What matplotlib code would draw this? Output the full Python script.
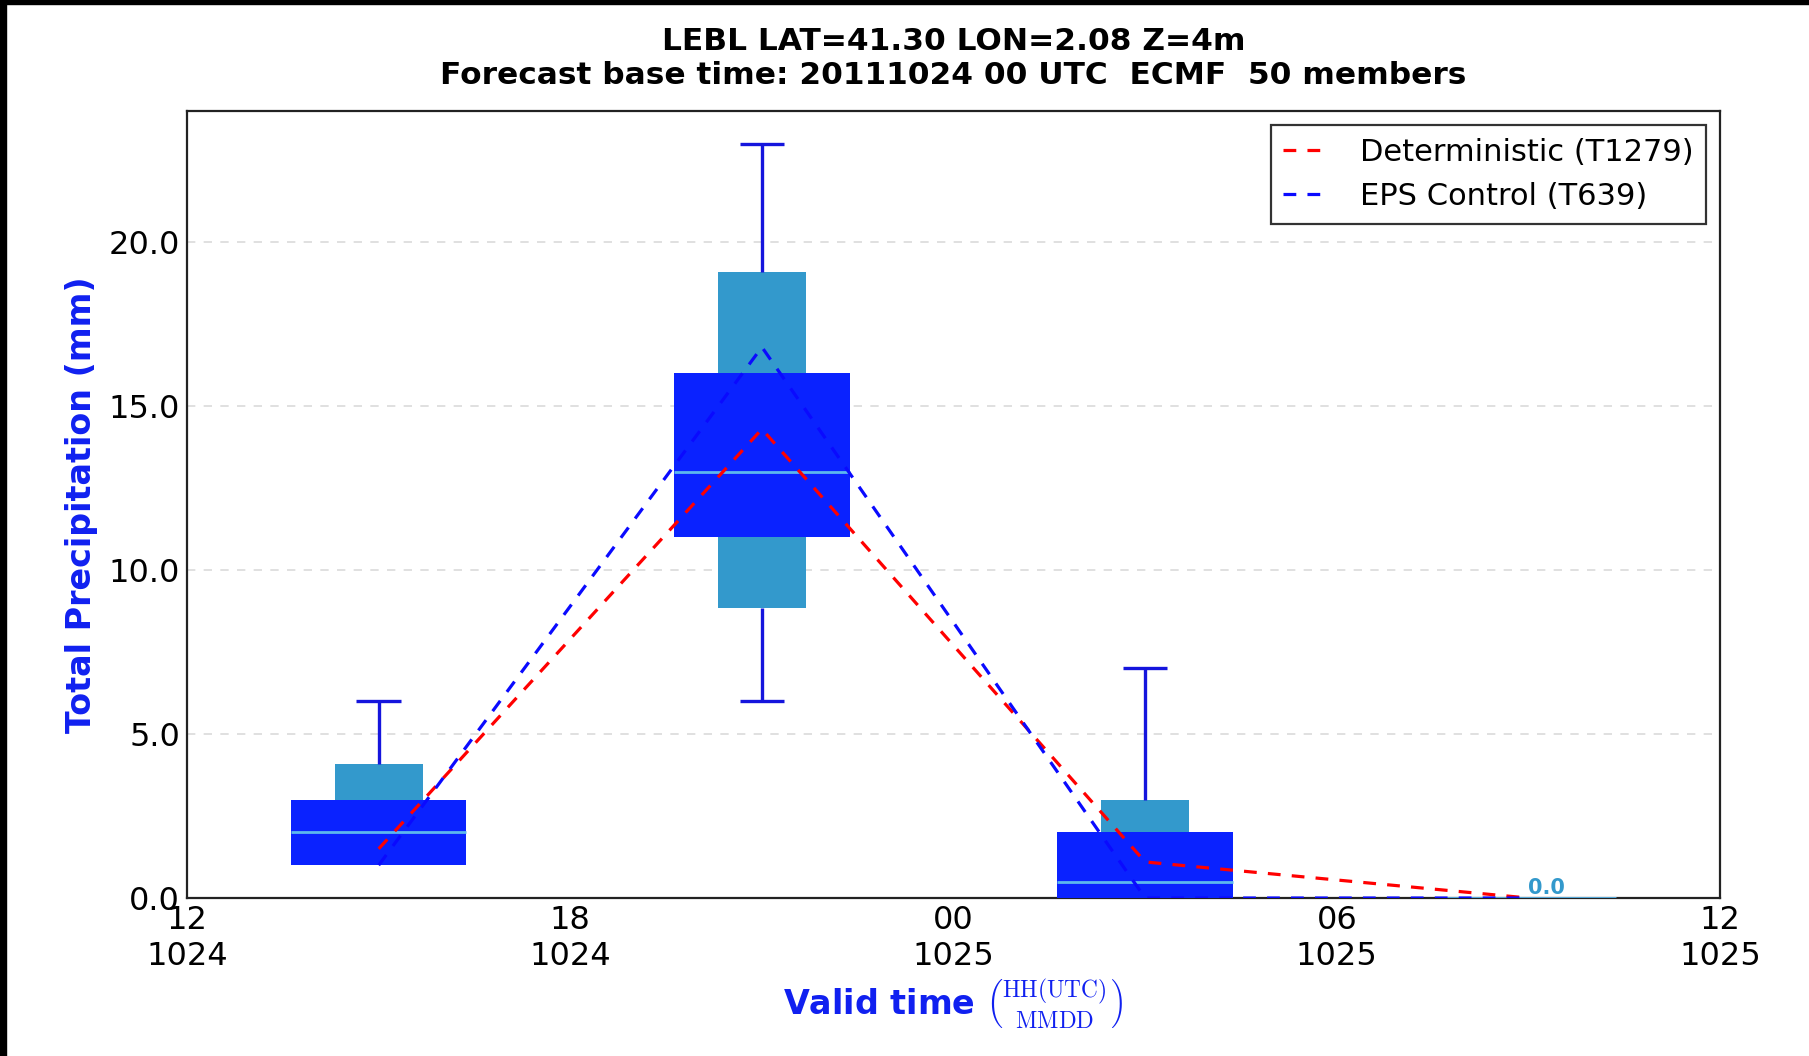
import numpy as np
import matplotlib
matplotlib.use('Agg')
import matplotlib.pyplot as plt
from matplotlib.patches import Rectangle

plt.rcParams['font.family'] = ['DejaVu Sans']
plt.rcParams['mathtext.fontset'] = 'cm'

# ---- data (6h accumulated precipitation, mm) ----
steps = [15, 21, 27, 33]          # hours after 20111024 00 UTC (centre of period)
p10 = [1.0, 8.85, 0.0, 0.0]
p25 = [1.0, 11.0, 0.0, 0.0]
p50 = [2.0, 13.0, 0.5, 0.0]
p75 = [3.0, 16.0, 2.0, 0.0]
p90 = [4.1, 19.1, 3.0, 0.0]
pmin = [1.0, 6.0, 0.0, 0.0]
pmax = [6.0, 23.0, 7.0, 0.0]
deterministic = [1.5, 14.3, 1.1, 0.0]
eps_control = [1.0, 16.8, 0.0, 0.0]

xticks_h = [12, 18, 24, 30, 36]
yticks = [0.0, 5.0, 10.0, 15.0, 20.0]

title = ('LEBL LAT=41.30 LON=2.08 Z=4m\n'
         'Forecast base time: 20111024 00 UTC  ECMF  50 members')

# ---- colours ----
DARK = '#0a22ff'
LIGHT = '#3399cc'
MEDIAN = '#5cb8ee'
WHISK = '#1515dd'
LABEL_BLUE = '#1020f0'

steps = np.array(steps, dtype=float)
p10, p25, p50, p75, p90 = map(np.array, (p10, p25, p50, p75, p90))
pmin, pmax = np.array(pmin), np.array(pmax)

fig = plt.figure(figsize=(18.09, 10.56), dpi=100)
ax = fig.add_axes([0.1034, 0.1496, 0.8474, 0.7453])

wide, narrow, cap = 2.75, 1.375, 0.7

ax.yaxis.grid(True, linestyle=(0, (5, 5)), color='#dadada', linewidth=1.2, zorder=0)
ax.set_axisbelow(True)

# 10-90 percentile (narrow) and 25-75 percentile (wide) boxes
ax.bar(steps, p90 - p10, bottom=p10, width=narrow, color=LIGHT, linewidth=0, zorder=2)
ax.bar(steps, p75 - p25, bottom=p25, width=wide, color=DARK, linewidth=0, zorder=3)
ax.hlines(p50, steps - wide / 2, steps + wide / 2, colors=MEDIAN, linewidth=2, zorder=4)

# whiskers min / max
up = pmax > p90
lo = pmin < p10
ax.vlines(steps[up], p90[up], pmax[up], colors=WHISK, linewidth=2.4, zorder=3)
ax.hlines(pmax[up], steps[up] - cap / 2, steps[up] + cap / 2, colors=WHISK, linewidth=2.4, zorder=3)
ax.vlines(steps[lo], pmin[lo], p10[lo], colors=WHISK, linewidth=2.4, zorder=3)
ax.hlines(pmin[lo], steps[lo] - cap / 2, steps[lo] + cap / 2, colors=WHISK, linewidth=2.4, zorder=3)

for s, v in zip(steps, pmax):
    if v == 0:
        ax.text(s, 0.0, '%.1f' % v, color=LIGHT, fontsize=15, fontweight='bold',
                ha='left', va='bottom', zorder=6)

ax.plot(steps, deterministic, color='red', linestyle='--', dashes=(4, 3.5),
        linewidth=2.3, label='Deterministic (T1279)', zorder=5)
ax.plot(steps, eps_control, color='#0a0aff', linestyle='--', dashes=(4, 3.5),
        linewidth=2.3, label='EPS Control (T639)', zorder=5)

ax.set_xlim(12, 36)
ax.set_ylim(0, 24)
ax.set_xticks(xticks_h)
ax.set_xticklabels(['%02d\n%d' % (h % 24, 1024 + h // 24) for h in xticks_h])
ax.set_yticks(yticks)
ax.set_yticklabels(['%.1f' % v for v in yticks])
ax.tick_params(axis='both', length=0, labelsize=23)
ax.tick_params(axis='x', pad=5)
ax.tick_params(axis='y', pad=5)

for sp in ax.spines.values():
    sp.set_linewidth(1.6)
    sp.set_color('#222222')

ax.set_title(title, fontsize=22.5, fontweight='bold', pad=19.5, linespacing=1.22)
ax.set_ylabel('Total Precipitation (mm)', color=LABEL_BLUE, fontsize=24,
              fontweight='bold', labelpad=8)
ax.set_xlabel(r'Valid time $\binom{\mathrm{HH(UTC)}}{\mathrm{MMDD}}$', color=LABEL_BLUE,
              fontsize=24, fontweight='bold', labelpad=4)

leg = ax.legend(loc='upper right', fontsize=22, fancybox=False, handlelength=1.3,
                handletextpad=1.2, borderpad=0.42, labelspacing=0.5, borderaxespad=0.45)
leg.get_frame().set_edgecolor('black')
leg.get_frame().set_linewidth(1.6)

# black frame strips on top / left edges
fig.add_artist(Rectangle((0, 0), 6 / 1809, 1, transform=fig.transFigure, color='black'))
fig.add_artist(Rectangle((0, 1 - 4 / 1056), 1, 4 / 1056, transform=fig.transFigure, color='black'))

fig.savefig('out.png', dpi=100)
